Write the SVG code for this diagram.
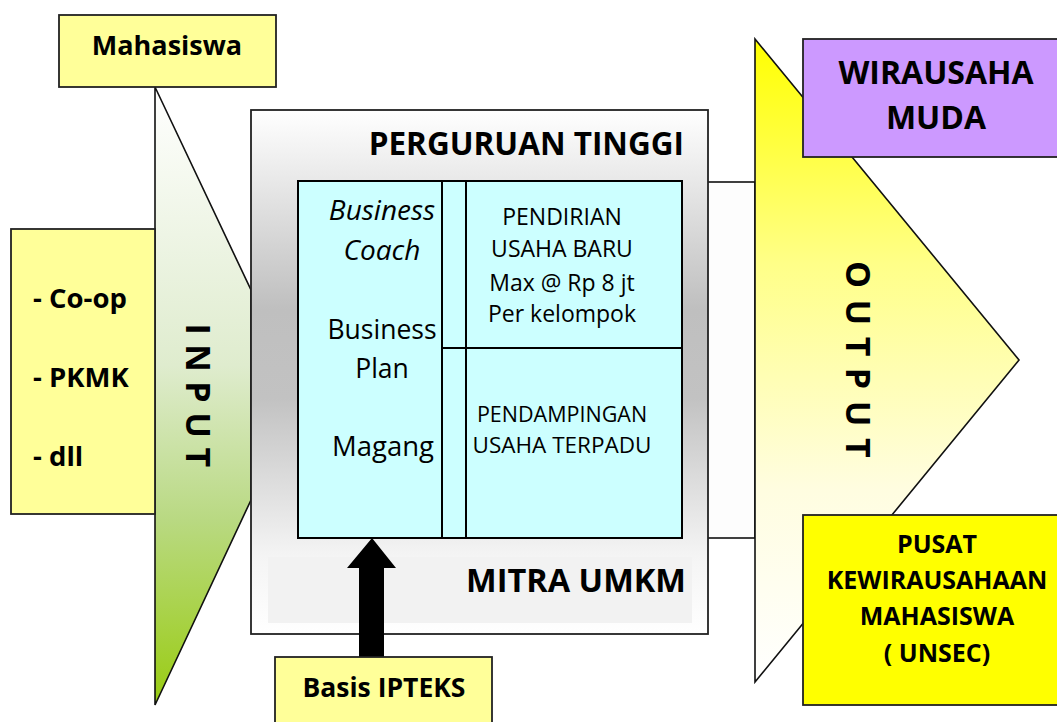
<svg xmlns="http://www.w3.org/2000/svg" width="1057" height="722" viewBox="0 0 1057 722">
<defs>
<linearGradient id="gIn" x1="0" y1="0" x2="0" y2="1">
<stop offset="0" stop-color="#ffffff"/>
<stop offset="0.45" stop-color="#dfecce"/>
<stop offset="0.7" stop-color="#b9d982"/>
<stop offset="1" stop-color="#99cc11"/>
</linearGradient>
<linearGradient id="gOut" x1="0" y1="0" x2="0" y2="1">
<stop offset="0" stop-color="#ffff00"/>
<stop offset="0.35" stop-color="#ffff88"/>
<stop offset="0.7" stop-color="#fffde0"/>
<stop offset="1" stop-color="#ffffff"/>
</linearGradient>
<linearGradient id="gBox" x1="0" y1="0" x2="0" y2="1">
<stop offset="0" stop-color="#ffffff"/>
<stop offset="0.38" stop-color="#bfbfbf"/>
<stop offset="0.55" stop-color="#c2c2c2"/>
<stop offset="0.85" stop-color="#f4f4f4"/>
<stop offset="1" stop-color="#ffffff"/>
</linearGradient>
<style>
.ln{stroke:#111;stroke-width:1.6;}
.bx{stroke:#222;stroke-width:1.8;}
.t{font-family:"Open Sans","Noto Sans","Liberation Sans",sans-serif;fill:#000;}
.b{font-weight:bold;}
.m{text-anchor:middle;}
.e{text-anchor:end;}
</style>
</defs>

<g id="input">
<polygon class="ln" points="155,87 251,290 251,500 155,705" fill="url(#gIn)"/>
<text class="t b" font-size="34" letter-spacing="9.5" transform="translate(186,400) rotate(90)" text-anchor="middle">INPUT</text>
</g>

<g id="pipe">
<rect class="ln" x="700" y="182" width="55" height="356" fill="#fdfdfd"/>
</g>

<g id="perguruan-tinggi">
<rect class="bx" x="251" y="110" width="457" height="524" fill="url(#gBox)"/>
<rect x="268" y="557" width="424" height="66" fill="#f2f2f2"/>
<text class="t b e" x="684" y="155" font-size="31.5">PERGURUAN TINGGI</text>
<text class="t b e" x="686" y="592" font-size="32.5">MITRA UMKM</text>
</g>

<g id="program">
<rect x="298" y="181" width="384" height="357" fill="#ccffff" stroke="#000" stroke-width="2"/>
<line x1="442" y1="181" x2="442" y2="538" stroke="#000" stroke-width="2"/>
<line x1="466" y1="181" x2="466" y2="538" stroke="#000" stroke-width="2"/>
<line x1="442" y1="348" x2="682" y2="348" stroke="#000" stroke-width="2"/>
<text class="t m" font-size="28" font-style="italic"><tspan x="382" y="220">Business</tspan><tspan x="382" y="260">Coach</tspan></text>
<text class="t m" font-size="26.5"><tspan x="382" y="339">Business</tspan><tspan x="382" y="378">Plan</tspan></text>
<text class="t m" font-size="27.5" x="383" y="456">Magang</text>
<text class="t m" font-size="23"><tspan x="562" y="225">PENDIRIAN</tspan><tspan x="562" y="257">USAHA BARU</tspan><tspan x="562" y="291">Max @ Rp 8 jt</tspan><tspan x="562" y="322">Per kelompok</tspan></text>
<text class="t m" font-size="21.5"><tspan x="562" y="422">PENDAMPINGAN</tspan><tspan x="562" y="453" font-size="22.5">USAHA TERPADU</tspan></text>
</g>

<g id="connectors">
<polygon points="359,657 359,568 347,568 372,538 396,568 384,568 384,657" fill="#000"/>
</g>

<g id="basis-ipteks">
<rect class="bx" x="275" y="657" width="217" height="80" fill="#ffff99"/>
<text class="t b m" x="384" y="697" font-size="26.5">Basis IPTEKS</text>
</g>

<g id="output">
<polygon class="ln" points="755,39 1019,360 755,682" fill="url(#gOut)"/>
<text class="t b" font-size="34" letter-spacing="11.5" transform="translate(846,365) rotate(90)" text-anchor="middle">OUTPUT</text>
</g>

<g id="wirausaha-muda">
<rect class="bx" x="803" y="39" width="270" height="118" fill="#cc99ff"/>
<text class="t b m" font-size="32"><tspan x="936" y="84">WIRAUSAHA</tspan><tspan x="936" y="129">MUDA</tspan></text>
</g>

<g id="pusat">
<rect class="bx" x="803" y="515" width="270" height="190" fill="#ffff00"/>
<text class="t b m" font-size="25"><tspan x="937" y="553">PUSAT</tspan><tspan x="937" y="589">KEWIRAUSAHAAN</tspan><tspan x="937" y="625">MAHASISWA</tspan><tspan x="937" y="662">( UNSEC)</tspan></text>
</g>

<g id="mahasiswa">
<rect class="bx" x="59" y="15" width="217" height="72" fill="#ffff99"/>
<text class="t b m" x="167" y="55" font-size="27">Mahasiswa</text>
</g>

<g id="jalur">
<rect class="bx" x="11" y="229" width="144" height="285" fill="#ffff99"/>
<text class="t b" font-size="27.5"><tspan x="33" y="308">- Co-op</tspan><tspan x="33" y="387">- PKMK</tspan><tspan x="33" y="466">- dll</tspan></text>
</g>
</svg>
